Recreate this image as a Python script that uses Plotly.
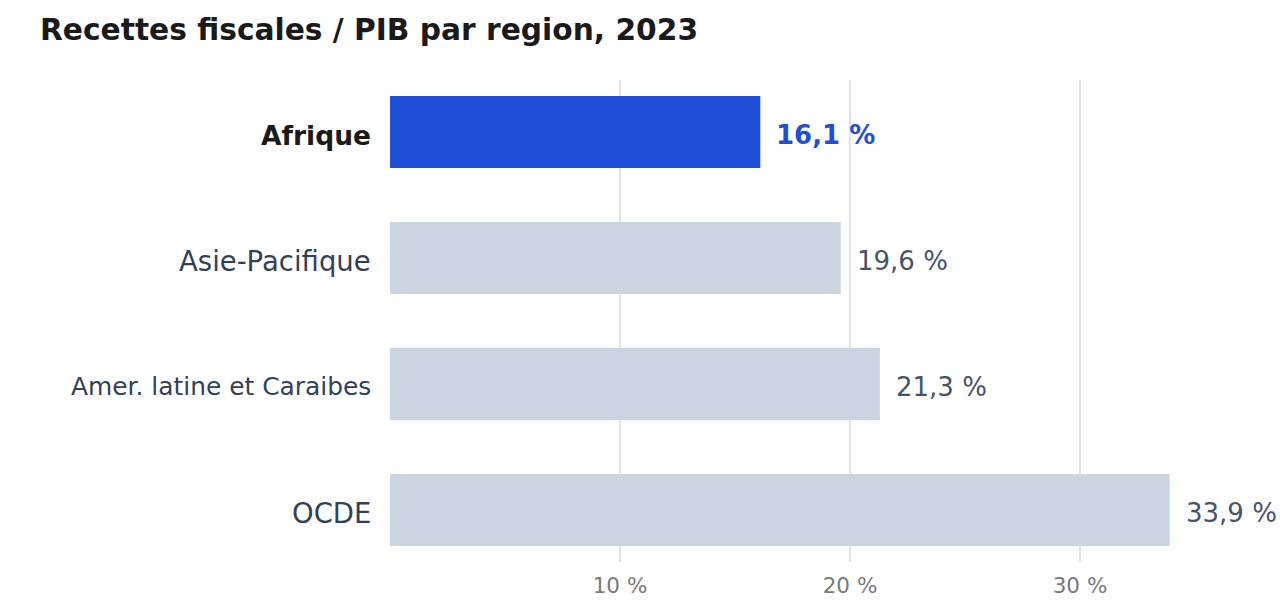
import plotly.graph_objects as go

regions = ["Afrique", "Asie-Pacifique", "Amer. latine et Caraibes", "OCDE"]
values = [16.1, 19.6, 21.3, 33.9]
highlight = "Afrique"
tick_vals = [10, 20, 30]
tick_text = ["10 %", "20 %", "30 %"]

BLUE = "#1f4fd8"
GRAY = "#cbd5e1"
FONT = "DejaVu Sans"

colors = [BLUE if r == highlight else GRAY for r in regions]

def fmt(v):
    return f"{v:.1f}".replace(".", ",") + " %"

fig = go.Figure()
fig.add_trace(go.Bar(
    x=values, y=regions, orientation="h",
    marker=dict(color=colors, line=dict(width=0)),
    width=0.571, hoverinfo="skip",
))

for r, v in zip(regions, values):
    hl = r == highlight
    # value label
    fig.add_annotation(
        x=v, y=r, xref="x", yref="y",
        text=(f"<b>{fmt(v)}</b>" if hl else fmt(v)),
        showarrow=False, xanchor="left", yanchor="middle", xshift=14, yshift=-3,
        font=dict(family=FONT, size=26, color=BLUE if hl else "#475569"),
    )
    # category label
    if hl:
        txt, size, col = f"<b>{r}</b>", 26.5, "#1a1a1a"
    elif len(r) > 16:
        txt, size, col = r, 24.9, "#334155"
    else:
        txt, size, col = r, 27.5, "#334155"
    fig.add_annotation(
        x=0, y=r, xref="x", yref="y",
        text=txt, showarrow=False, xanchor="right", yanchor="middle",
        xshift=-17, yshift=-3,
        font=dict(family=FONT, size=size, color=col),
    )

fig.update_layout(
    width=1280, height=600,
    margin=dict(l=390, r=16, t=80, b=38),
    paper_bgcolor="white", plot_bgcolor="white",
    showlegend=False,
    title=dict(
        text="<b>Recettes fiscales / PIB par region, 2023</b>",
        x=40 / 1280, xref="container", xanchor="left",
        y=1 - 30 / 600, yref="container", yanchor="middle",
        font=dict(family=FONT, size=29.7, color="#1a1a1a"),
    ),
    xaxis=dict(
        range=[0, 38], tickvals=tick_vals, ticktext=tick_text,
        showgrid=True, gridcolor="#e3e3e6", gridwidth=1.5,
        zeroline=False, showline=False, ticks="",
        ticklabelstandoff=8, automargin=False,
        tickfont=dict(family=FONT, size=21.5, color="#7a7a7a"),
        fixedrange=True,
    ),
    yaxis=dict(
        categoryorder="array", categoryarray=regions,
        range=[3.413, -0.413], automargin=False,
        showgrid=False, zeroline=False, showline=False, ticks="",
        showticklabels=False,
        fixedrange=True,
    ),
)

fig.write_html("out.html")
